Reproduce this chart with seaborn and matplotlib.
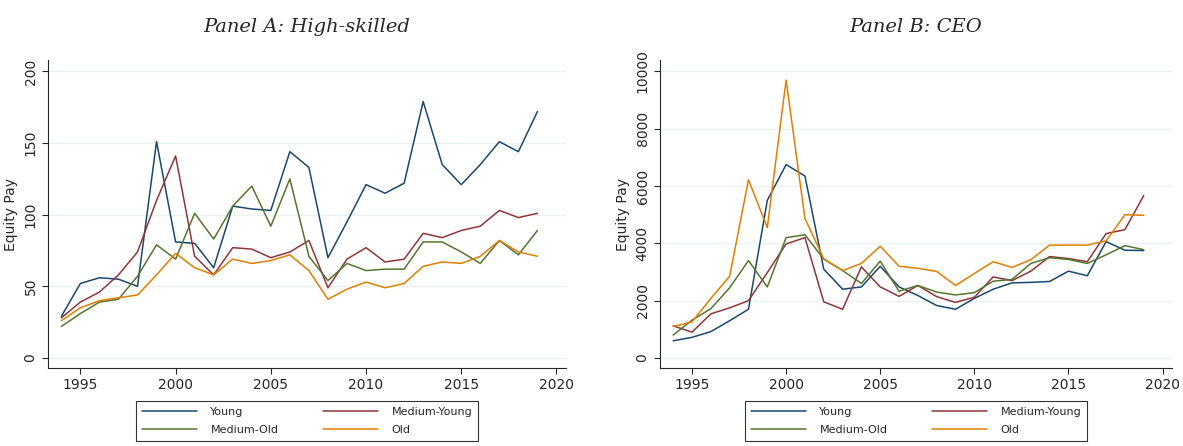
import numpy as np
import pandas as pd
import matplotlib
matplotlib.use('Agg')
import matplotlib.pyplot as plt
import seaborn as sns

years = list(range(1994, 2020))
groups = ['Young', 'Medium-Young', 'Medium-Old', 'Old']

hs_young = [29, 52, 56, 55, 50, 151, 81, 80, 63, 106, 104, 103, 144, 133, 70, 95, 121, 115, 122, 179, 135, 121, 135, 151, 144, 172]
hs_myoung = [28, 39, 46, 58, 74, 110, 141, 71, 58, 77, 76, 70, 74, 82, 49, 69, 77, 67, 69, 87, 84, 89, 92, 103, 98, 101]
hs_mold = [22, 31, 39, 41, 57, 79, 69, 101, 83, 106, 120, 92, 125, 71, 54, 66, 61, 62, 62, 81, 81, 74, 66, 82, 72, 89]
hs_old = [26, 35, 40, 42, 44, 58, 73, 63, 58, 69, 66, 68, 72, 61, 41, 48, 53, 49, 52, 64, 67, 66, 71, 82, 74, 71]

ceo_young = [600, 720, 920, 1300, 1700, 5500, 6750, 6350, 3100, 2400, 2480, 3200, 2480, 2180, 1830, 1700, 2080, 2400, 2620, 2640, 2670, 3030, 2870, 4060, 3760, 3750]
ceo_myoung = [1120, 900, 1540, 1750, 2000, 2980, 3980, 4200, 1960, 1700, 3180, 2480, 2150, 2530, 2140, 1940, 2120, 2830, 2700, 3030, 3540, 3470, 3360, 4340, 4480, 5670]
ceo_mold = [800, 1320, 1720, 2450, 3400, 2480, 4200, 4300, 3450, 3050, 2600, 3380, 2330, 2530, 2300, 2200, 2280, 2680, 2740, 3300, 3500, 3440, 3300, 3600, 3920, 3780]
ceo_old = [1100, 1260, 2080, 2850, 6220, 4550, 9700, 4870, 3460, 3050, 3300, 3900, 3200, 3130, 3020, 2530, 2950, 3360, 3160, 3430, 3940, 3940, 3940, 4090, 5000, 4980]

palette = ['#1a476f', '#90353b', '#55752f', '#e37e00']

sns.set_style('white')
plt.rcParams['font.family'] = ['DejaVu Sans']

fig = plt.figure(figsize=(11.83, 4.46), dpi=100)
W, H = 1183, 446
axes = [fig.add_axes([48 / W, 1 - 368 / H, 518 / W, 308 / H]),
        fig.add_axes([660 / W, 1 - 368 / H, 512 / W, 308 / H])]

panels = [
    ('Panel A: High-skilled', [hs_young, hs_myoung, hs_mold, hs_old], [0, 50, 100, 150, 200], (-7, 208)),
    ('Panel B: CEO', [ceo_young, ceo_myoung, ceo_mold, ceo_old], [0, 2000, 4000, 6000, 8000, 10000], (-350, 10400)),
]

for ax, (title, series, yt, ylim) in zip(axes, panels):
    df = pd.DataFrame({'year': years * 4,
                       'value': sum(series, []),
                       'group': [g for g in groups for _ in years]})
    sns.lineplot(data=df, x='year', y='value', hue='group', hue_order=groups,
                 palette=palette, linewidth=1.1, ax=ax)
    ax.set_title(title, fontsize=14, style='italic', family='DejaVu Serif', pad=20)
    ax.set_ylabel('Equity Pay', fontsize=10)
    ax.set_xlabel('')
    ax.set_yticks(yt)
    ax.set_ylim(*ylim)
    ax.set_xticks([1995, 2000, 2005, 2010, 2015, 2020])
    ax.set_xlim(1993.3, 2020.5)
    ax.tick_params(axis='y', labelrotation=90, labelsize=10, left=True, length=4)
    ax.tick_params(axis='x', labelsize=10, bottom=True, length=4)
    for lab in ax.get_yticklabels():
        lab.set_va('center')
    ax.grid(axis='y', color='#eaf2f3', linewidth=1)
    sns.despine(ax=ax)
    h, l = ax.get_legend_handles_labels()
    order = [0, 2, 1, 3]
    ax.legend([h[i] for i in order], [l[i] for i in order],
              loc='upper center', bbox_to_anchor=(0.5, -0.09), ncol=2, frameon=True,
              fancybox=False, edgecolor='black', fontsize=8, columnspacing=4,
              handlelength=5, borderpad=0.5, labelspacing=0.75, handletextpad=1.2)
    ax.get_legend().get_frame().set_linewidth(0.8)

plt.savefig('out.png', dpi=100)
